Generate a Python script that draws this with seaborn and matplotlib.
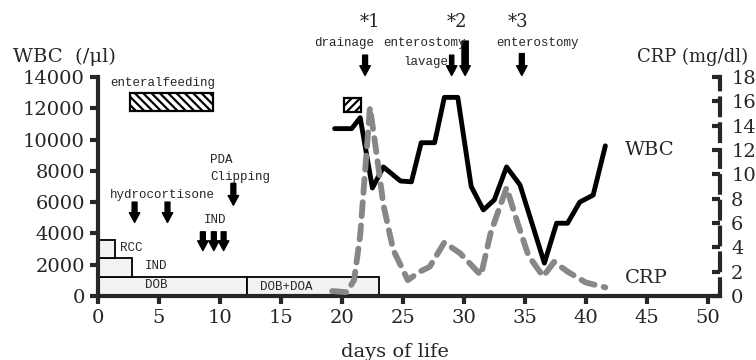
import numpy as np
import pandas as pd
import matplotlib
matplotlib.use("Agg")
import matplotlib.pyplot as plt
import seaborn as sns

##### DATA

# WBC (/ul) by day of life
wbcDay = [19.4, 20.8, 21.5, 22.5, 23.4, 24.8, 25.7, 26.5, 27.6, 28.4, 29.5,
          30.6, 31.6, 32.5, 33.5, 34.6, 36.6, 37.6, 38.5, 39.5, 40.6, 41.6]
wbcVal = [10700, 10700, 11400, 6900, 8250, 7350, 7300, 9800, 9800, 12700, 12700,
          7000, 5500, 6150, 8250, 7100, 2100, 4650, 4650, 6000, 6450, 9600]

# CRP (mg/dl) by day of life
crpDay = [19.2, 20.4, 21.0, 21.5, 22.3, 22.8, 23.4, 24.2, 25.4, 26.4, 27.2, 28.4,
          29.7, 31.4, 32.2, 33.5, 34.4, 35.3, 36.5, 37.4, 38.5, 40.0, 41.6]
crpVal = [0.4, 0.3, 1.3, 5.0, 15.5, 12.0, 7.5, 3.8, 1.3, 2.0, 2.4, 4.4,
          3.5, 1.7, 5.2, 8.9, 6.0, 3.3, 1.6, 2.8, 2.0, 1.1, 0.7]

# therapy boxes along the bottom (in WBC axis units)
therapyName = ["DOB", "DOB+DOA", "IND", "RCC"]
therapyStart = [0, 12.2, 0, 0]
therapyEnd = [12.2, 23.0, 2.8, 1.4]
therapyLow = [0, 0, 1200, 2400]
therapyHigh = [1200, 1200, 2400, 3550]
therapyLabelDay = [3.85, 13.3, 3.8, 1.8]
therapyLabelVal = [700, 575, 1920, 3070]

# enteral feeding (hatched)
feedStart = [2.6, 20.2]
feedEnd = [9.4, 21.6]
feedLow = [11830, 11770]
feedHigh = [13000, 12650]
feedHatch = ["\\\\\\\\", "////"]

# drug / procedure arrows inside the plot
drugArrowDay = [3.0, 5.7, 8.6, 9.5, 10.3, 11.1]
drugArrowTop = [6000, 6000, 4100, 4100, 4100, 7200]
drugArrowBottom = [4700, 4700, 2900, 2900, 2900, 5800]

# surgery arrows above the plot
opArrowDay = [21.9, 29.0, 30.1, 34.75]
opArrowTop = [15400, 15400, 16300, 15500]
opArrowBottom = [14100, 14100, 14100, 14100]
opArrowTail = [0.35, 0.3, 0.45, 0.35]

##### PLOT
sns.set_style("ticks")
plt.rcParams["font.family"] = ["DejaVu Serif"]
plt.rcParams["hatch.linewidth"] = 1.6

fig = plt.figure(figsize=(7.56, 3.6), dpi=100)
ax = fig.add_axes([0.1296, 0.178, 0.8228, 0.608])
ax2 = ax.twinx()

monoFont = dict(family="Liberation Mono", size=9)

# therapy boxes
for i in range(len(therapyName)):
    ax.barh(y=(therapyLow[i] + therapyHigh[i]) / 2, width=therapyEnd[i] - therapyStart[i],
            left=therapyStart[i], height=therapyHigh[i] - therapyLow[i],
            color="#f3f3f3", edgecolor="black", linewidth=1.3, zorder=1)
    ax.text(therapyLabelDay[i], therapyLabelVal[i], therapyName[i], va="center",
            ha="left", **monoFont)

# enteral feeding
for i in range(len(feedStart)):
    ax.barh(y=(feedLow[i] + feedHigh[i]) / 2, width=feedEnd[i] - feedStart[i],
            left=feedStart[i], height=feedHigh[i] - feedLow[i], color="white",
            edgecolor="black", linewidth=1.6, hatch=feedHatch[i], zorder=1)
ax.text(1.0, 13620, "enteralfeeding", va="center", ha="left", **monoFont)

# WBC line
sns.lineplot(x=wbcDay, y=wbcVal, ax=ax, color="black", linewidth=3.5, zorder=3)

# CRP line (dashed grey, right axis)
sns.lineplot(x=crpDay, y=crpVal, ax=ax2, color="#878787", linewidth=4.2,
             linestyle=(0, (2.4, 1.6)), dash_capstyle="round", zorder=3)

# arrows
def downArrow(day, top, bottom, tail=0.35):
    ax.annotate("", xy=(day, bottom), xytext=(day, top), annotation_clip=False,
                arrowprops=dict(arrowstyle="simple,head_length=0.7,head_width=0.75,tail_width=%s" % tail,
                                color="black", shrinkA=0, shrinkB=0))

for i in range(len(drugArrowDay)):
    downArrow(drugArrowDay[i], drugArrowTop[i], drugArrowBottom[i])
for i in range(len(opArrowDay)):
    downArrow(opArrowDay[i], opArrowTop[i], opArrowBottom[i], opArrowTail[i])

ax.text(5.25, 6460, "hydrocortisone", ha="center", va="center", **monoFont)
ax.text(9.6, 4860, "IND", ha="center", va="center", **monoFont)
ax.text(9.2, 8700, "PDA", ha="left", va="center", **monoFont)
ax.text(9.2, 7610, "Clipping", ha="left", va="center", **monoFont)

ax.text(20.2, 16180, "drainage", ha="center", va="center", **monoFont)
ax.text(26.8, 16180, "enterostomy", ha="center", va="center", **monoFont)
ax.text(26.9, 14960, "lavage", ha="center", va="center", **monoFont)
ax.text(36.0, 16180, "enterostomy", ha="center", va="center", **monoFont)
for lab, d in zip(["*1", "*2", "*3"], [22.3, 29.4, 34.4]):
    ax.text(d, 17550, lab, ha="center", va="center", fontsize=13)

ax.text(43.2, 9330, "WBC", ha="left", va="center", fontsize=14)
ax.text(43.2, 1150, "CRP", ha="left", va="center", fontsize=14)

# axes
ax.set_xlim(0, 51)
ax.set_ylim(0, 14000)
ax2.set_ylim(0, 18)
ax.set_xticks(np.arange(0, 51, 5))
ax.set_yticks(np.arange(0, 14001, 2000))
ax2.set_yticks(np.arange(0, 19, 2))
ax.set_xlabel("")
ax.set_ylabel("")
ax2.set_ylabel("")

for s in ["top", "right"]:
    ax.spines[s].set_visible(False)
for s in ["top", "left", "bottom"]:
    ax2.spines[s].set_visible(False)
ax.spines["left"].set_linewidth(3)
ax.spines["bottom"].set_linewidth(3)
ax2.spines["right"].set_linewidth(3)
ax2.spines["right"].set_linestyle((0, (4, 2.2)))

ax.tick_params(axis="both", direction="out", length=6, width=3, labelsize=14)
ax2.tick_params(axis="y", direction="in", length=6, width=3, labelsize=14, pad=8)

fig.text(13 / 756, 1 - 57 / 360, "WBC  (/\u03bcl)", ha="left", va="center", fontsize=14)
fig.text(637 / 756, 1 - 57 / 360, "CRP (mg/dl)", ha="left", va="center", fontsize=13)
fig.text(395 / 756, 1 - 352 / 360, "days of life", ha="center", va="center", fontsize=14)

plt.savefig("out.png", dpi=100)
